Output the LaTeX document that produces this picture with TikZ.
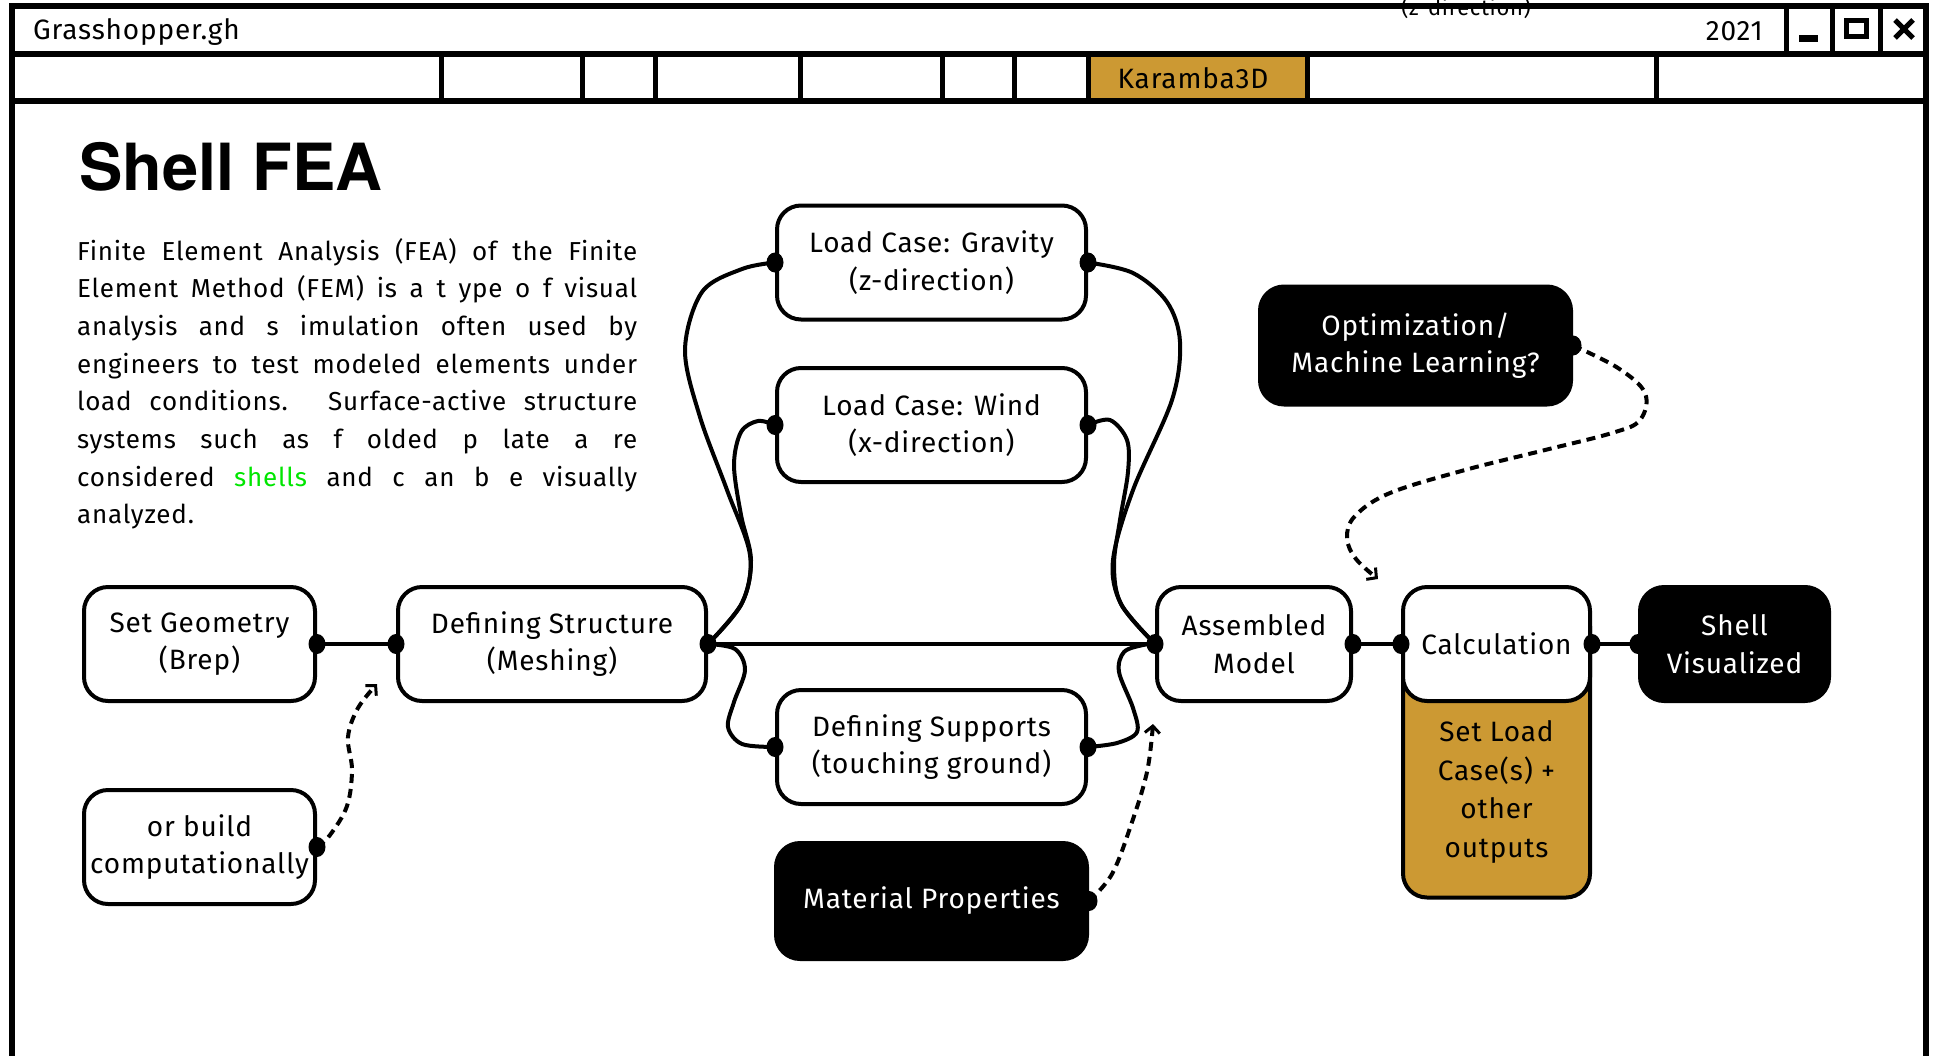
\documentclass[tikz,border=0pt]{standalone}
\usepackage{fontspec}
\setmainfont{Fira Sans}[LetterSpace=3]
\newfontfamily\headfont{TeX Gyre Heros}
\usetikzlibrary{arrows.meta,shapes.geometric}
\definecolor{gold}{RGB}{204,153,51}
\definecolor{shellgreen}{RGB}{0,230,0}
\newcommand\myjline[1]{\makebox[560pt][s]{#1}}
\begin{document}
\begin{tikzpicture}[x=1pt,y=-1pt,
  box/.style={draw, line width=4pt, rounded corners=24pt, fill=white, minimum height=114pt, align=center, inner sep=0pt, font=\fontsize{28}{37.5}\selectfont},
  darkbox/.style={box, fill=black, text=white},
  pin/.style={ellipse, fill=black, minimum width=17pt, minimum height=20pt, inner sep=0pt},
  conn/.style={line width=4pt},
  hint/.style={line width=4pt, dash pattern=on 9pt off 6pt, -{Straight Barb[length=7pt,width=15pt,line width=3pt]}},
  bar/.style={line width=6pt},
  sep/.style={line width=5pt},
  label/.style={inner sep=0pt, font=\fontsize{28}{30}\selectfont}
]
\useasboundingbox (0,0) rectangle (1935,1055);
\fill[white] (0,0) rectangle (1935,1055);

% window chrome
\node[anchor=base, inner sep=0pt, font=\fontsize{22}{25}\selectfont] (ztop) at (1466,15) {(z-direction)};
\fill[gold] (1088,54) rectangle (1307,101);
\draw[bar] (12,1065) -- (12,6) -- (1926,6) -- (1926,1065);
\draw[bar] (12,54) -- (1926,54);
\draw[bar] (12,101) -- (1926,101);
\foreach \x in {441,582,655,800,942,1014,1088,1307,1656} \draw[sep] (\x,54) -- (\x,101);
\foreach \x in {1786,1832,1880} \draw[sep] (\x,6) -- (\x,54);
\fill (1799,35) rectangle (1818,42);
\draw[line width=5pt] (1846,20) rectangle (1866,36);
\draw[line width=5pt] (1895,20) -- (1913,38) (1913,20) -- (1895,38);
\node[label, anchor=base west] (file) at (33,39) {Grasshopper.gh};
\node[label, anchor=base east] (year) at (1763,40) {2021};
\node[label, anchor=base] (tab) at (1193,88) {Karamba3D};

% heading and text
\node[anchor=base west, inner sep=0pt, font=\headfont\bfseries\fontsize{65}{70}\selectfont] (head) at (79,190) {Shell FEA};
\node[anchor=base west, inner sep=0pt, font=\fontsize{26}{37.7}\selectfont] (para) at (77,260) {\parbox[t]{560pt}{%
\myjline{Finite Element Analysis (FEA) of the Finite}\\
\myjline{Element Method (FEM) is a t ype o f visual}\\
\myjline{analysis and s imulation often used by}\\
\myjline{engineers to test modeled elements under}\\
\myjline{load conditions. Surface-active structure}\\
\myjline{systems such as f olded p late a re}\\
\myjline{considered \textcolor{shellgreen}{shells} and c an b e visually}\\
analyzed.}};

% boxes
\node[box, minimum width=231pt] (SG) at (199.5,644) {Set Geometry\\(Brep)};
\node[box, minimum width=308pt] (DS) at (552,644) {Defining Structure\\(Meshing)};
\node[box, minimum width=231pt] (OB) at (199.5,847) {or build\\computationally};
\node[box, minimum width=309pt] (LG) at (931.5,262.5) {Load Case: Gravity\\(z-direction)};
\node[box, minimum width=309pt] (LW) at (931.5,425) {Load Case: Wind\\(x-direction)};
\node[box, minimum width=309pt] (SU) at (931.5,747) {Defining Supports\\(touching ground)};
\node[darkbox, minimum width=311pt, minimum height=116pt] (MP) at (931.5,901) {Material Properties};
\node[box, minimum width=194pt] (AM) at (1254,644) {Assembled\\Model};
\node[box, fill=gold, minimum width=187pt, minimum height=295pt] (GB) at (1496.5,750) {};
\node[box, minimum width=187pt] (CA) at (1496.5,644) {Calculation};
\node[label, align=center, font=\fontsize{28}{38.5}\selectfont] (GT) at (1496.5,792) {Set Load\\Case(s) +\\other\\outputs};
\node[darkbox, minimum width=189pt] (SV) at (1734.5,644) {Shell\\Visualized};
\node[darkbox, minimum width=311pt, minimum height=118pt] (OM) at (1415.5,345.5) {Optimization/\\Machine Learning?};

% connectors
\draw[conn] (SG.east) -- (DS.west);
\draw[conn] (DS.east) -- (AM.west);
\draw[conn] (AM.east) -- (CA.west);
\draw[conn] (CA.east) -- (SV.west);
\draw[conn] plot[smooth, tension=0.55] coordinates {(DS.east) (742,603) (750,555) (727,490) (700,417) (685,350) (702,292) (742,269) (LG.west)};
\draw[conn] plot[smooth, tension=0.55] coordinates {(DS.east) (742,603) (751,560) (741,515) (734,465) (741,432) (758,421) (LW.west)};
\draw[conn] plot[smooth, tension=0.55] coordinates {(DS.east) (735,649) (745,670) (734,702) (728,727) (742,744) (SU.west)};
\draw[conn] plot[smooth, tension=0.55] coordinates {(LG.east) (1133,273) (1167,302) (1180,342) (1172,400) (1133,490) (1113,560) (1121,604) (AM.west)};
\draw[conn] plot[smooth, tension=0.55] coordinates {(LW.east) (1110,420) (1127,440) (1128,472) (1120,520) (1114,565) (1121,604) (AM.west)};
\draw[conn] plot[smooth, tension=0.55] coordinates {(SU.east) (1117,743) (1137,732) (1133,708) (1119,672) (1124,652) (1143,645) (AM.west)};

\coordinate (tipA) at (377,684);
\coordinate (tipB) at (1153,724);
\coordinate (tipC) at (1378,579);
\draw[hint] plot[smooth, tension=0.6] coordinates {(OB.east) (330,835) (347,806) (352,770) (348,737) (358,708) (tipA)};
\draw[hint] plot[smooth, tension=0.6] coordinates {(MP.east) (1112,874) (1131,825) (1147,772) (tipB)};
\draw[hint] plot[smooth, tension=0.6] coordinates {(OM.east) (1618,368) (1645,393) (1640,420) (1612,433) (1541,451) (1465,470) (1390,493) (1355,516) (1347,538) (1356,559) (tipC)};

% pins
\foreach \n/\a in {SG/east, DS/west, DS/east, OB/east, LG/west, LG/east, LW/west, LW/east, SU/west, SU/east, MP/east, AM/west, AM/east, CA/west, CA/east, SV/west, OM/east}
  \node[pin] (pin-\n-\a) at (\n.\a) {};
\end{tikzpicture}
\end{document}
